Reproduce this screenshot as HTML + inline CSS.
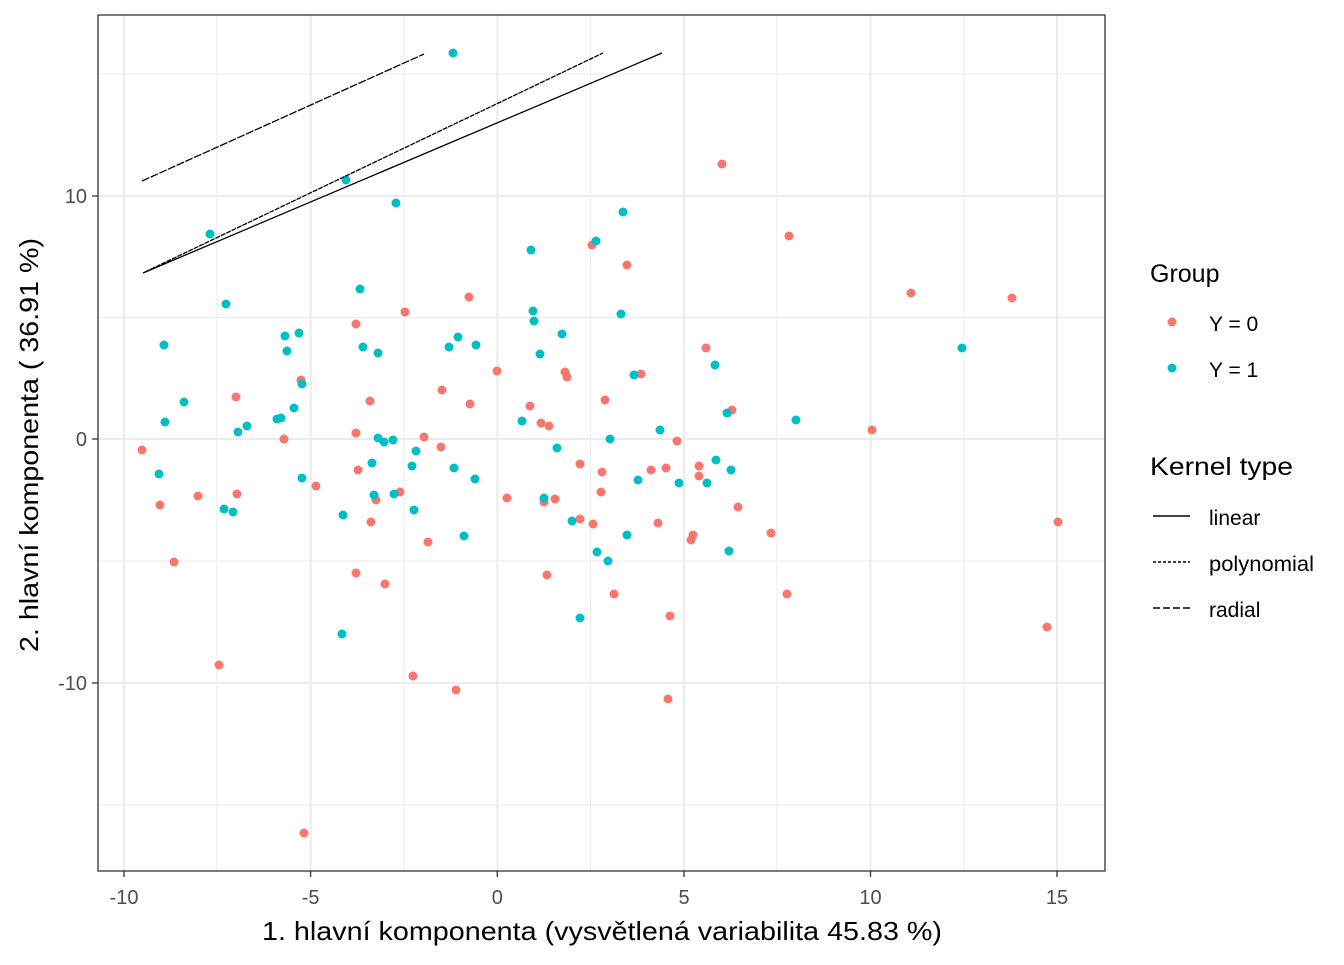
<!DOCTYPE html>
<html><head><meta charset="utf-8"><style>body{margin:0;background:#fff}svg text{font-family:"Liberation Sans",sans-serif}</style></head><body>
<svg width="1344" height="960" xmlns="http://www.w3.org/2000/svg">
<rect width="1344" height="960" fill="#fff"/>
<g stroke="#ebebeb" stroke-width="1">
<line x1="217" y1="15" x2="217" y2="871"/><line x1="404" y1="15" x2="404" y2="871"/><line x1="590.6" y1="15" x2="590.6" y2="871"/><line x1="777" y1="15" x2="777" y2="871"/><line x1="964" y1="15" x2="964" y2="871"/>
<line x1="98" y1="74" x2="1105" y2="74"/><line x1="98" y1="317.5" x2="1105" y2="317.5"/><line x1="98" y1="561" x2="1105" y2="561"/><line x1="98" y1="805" x2="1105" y2="805"/>
</g>
<g stroke="#ebebeb" stroke-width="2">
<line x1="124" y1="15" x2="124" y2="871"/><line x1="310.6" y1="15" x2="310.6" y2="871"/><line x1="497.3" y1="15" x2="497.3" y2="871"/><line x1="684" y1="15" x2="684" y2="871"/><line x1="870.5" y1="15" x2="870.5" y2="871"/><line x1="1057" y1="15" x2="1057" y2="871"/>
<line x1="98" y1="196" x2="1105" y2="196"/><line x1="98" y1="439" x2="1105" y2="439"/><line x1="98" y1="683" x2="1105" y2="683"/>
</g>
<g fill="#f8766d" id="r"></g>
<g fill="#00bfc4" id="b"></g>
<g stroke="#000" stroke-width="1.3" fill="none">
<line x1="142" y1="181" x2="424" y2="54" stroke-dasharray="8,1.5"/>
<line x1="143" y1="273" x2="662" y2="53"/>
<line x1="145" y1="272" x2="603" y2="53" stroke-dasharray="5,1"/>
</g>
<rect x="98" y="15" width="1007" height="856" fill="none" stroke="#333" stroke-width="1.3"/>
<g stroke="#333" stroke-width="1.3">
<line x1="124" y1="871" x2="124" y2="877"/><line x1="310.6" y1="871" x2="310.6" y2="877"/><line x1="497.3" y1="871" x2="497.3" y2="877"/><line x1="684" y1="871" x2="684" y2="877"/><line x1="870.5" y1="871" x2="870.5" y2="877"/><line x1="1057" y1="871" x2="1057" y2="877"/>
<line x1="92" y1="196" x2="98" y2="196"/><line x1="92" y1="439" x2="98" y2="439"/><line x1="92" y1="683" x2="98" y2="683"/>
</g>
<g font-size="20" fill="#4d4d4d" text-anchor="middle">
<text x="124" y="904">-10</text><text x="310.6" y="904">-5</text><text x="497.3" y="904">0</text><text x="684" y="904">5</text><text x="870.5" y="904">10</text><text x="1057" y="904">15</text>
</g>
<g font-size="20" fill="#4d4d4d" text-anchor="end">
<text x="87" y="203">10</text><text x="87" y="446">0</text><text x="87" y="690">-10</text>
</g>
<text x="262" y="940" font-size="26" textLength="680" lengthAdjust="spacingAndGlyphs">1. hlavní komponenta (vysvětlená variabilita 45.83 %)</text>
<text transform="translate(38,652) rotate(-90)" font-size="26" textLength="414" lengthAdjust="spacingAndGlyphs">2. hlavní komponenta ( 36.91 %)</text>
<text x="1150" y="282" font-size="25">Group</text>
<circle cx="1172" cy="322" r="4.5" fill="#f8766d"/><text x="1209" y="331" font-size="21">Y = 0</text>
<circle cx="1172" cy="368" r="4.5" fill="#00bfc4"/><text x="1209" y="377" font-size="21">Y = 1</text>
<text x="1150" y="475" font-size="25" textLength="143" lengthAdjust="spacingAndGlyphs">Kernel type</text>
<g stroke="#000" stroke-width="1.6">
<line x1="1153" y1="516" x2="1190" y2="516"/>
<line x1="1153" y1="562" x2="1190" y2="562" stroke-dasharray="3,2"/>
<line x1="1153" y1="608" x2="1190" y2="608" stroke-dasharray="7,3"/>
</g>
<text x="1209" y="525" font-size="21">linear</text>
<text x="1209" y="571" font-size="21" textLength="105" lengthAdjust="spacingAndGlyphs">polynomial</text>
<text x="1209" y="617" font-size="21">radial</text>
</svg>
<script>
var R=[[722,164],[789,236],[911,293],[1012,298],[872,430],[1058,522],[1047,627],[142,450],[160,505],[174,562],[198,496],[219,665],[236,397],[237,494],[284,439],[301,380],[316,486],[304,833],[356,324],[358,470],[356,433],[370,401],[371,522],[376,500],[356,573],[385,584],[400,492],[405,312],[413,676],[424,437],[428,542],[441,447],[442,390],[456,690],[469,297],[470,404],[497,371],[507,498],[530,406],[541,423],[544,502],[549,426],[547,575],[555,499],[565,372],[567,377],[580,464],[580,519],[592,245],[593,524],[601,492],[602,472],[605,400],[614,594],[627,265],[641,374],[651,470],[658,523],[666,468],[668,699],[670,616],[677,441],[691,540],[693,535],[699,476],[699,466],[706,348],[732,410],[738,507],[771,533],[787,594]];
var B=[[453,53],[346,180],[396,203],[210,234],[226,304],[164,345],[159,474],[165,422],[184,402],[224,509],[233,512],[238,432],[247,426],[277,419],[281,418],[287,351],[285,336],[299,333],[294,408],[302,384],[302,478],[343,515],[342,634],[360,289],[363,347],[378,353],[372,463],[378,438],[384,442],[393,440],[394,494],[374,495],[412,466],[416,451],[414,510],[449,347],[458,337],[464,536],[475,479],[476,345],[454,468],[522,421],[531,250],[533,311],[534,321],[540,354],[544,498],[557,448],[562,334],[572,521],[580,618],[596,241],[597,552],[608,561],[610,439],[621,314],[623,212],[627,535],[634,375],[638,480],[660,430],[679,483],[715,365],[707,483],[716,460],[727,413],[731,470],[729,551],[796,420],[962,348]];
function d(id,a){var g=document.getElementById(id),s="";a.forEach(function(p){s+='<circle cx="'+p[0]+'" cy="'+p[1]+'" r="4.5"/>'});g.innerHTML=s;}
d("r",R);d("b",B);
</script>
</body></html>
